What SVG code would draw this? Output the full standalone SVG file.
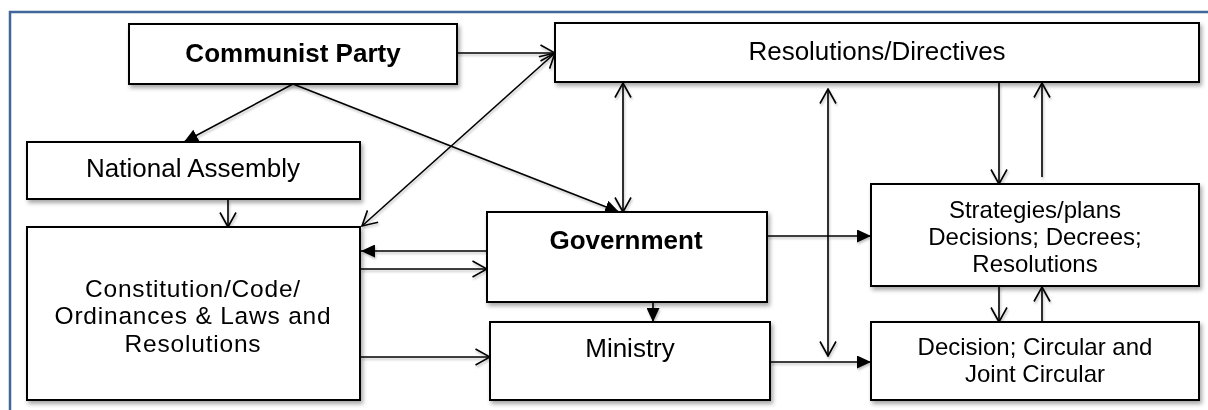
<svg xmlns="http://www.w3.org/2000/svg" width="1208" height="410" viewBox="0 0 1208 410">
  <style>
    .box { fill: #ffffff; stroke: #000000; stroke-width: 2; }
    .t { font-family: "Liberation Sans", Arial, sans-serif; font-size: 26px; fill: #000000; text-anchor: middle; }
    .tm { font-size: 24.5px; letter-spacing: 0.8px; }
    .ts { font-size: 24px; }
    .b { font-weight: bold; }
    .c { fill: none; stroke: #000000; stroke-width: 1.6; }
    .frame { fill: none; stroke: #41669a; stroke-width: 2.5; }
  </style>
  <defs>
    <filter id="shadow" x="-10%" y="-20%" width="130%" height="150%">
      <feDropShadow dx="2" dy="3" stdDeviation="2" flood-color="#000000" flood-opacity="0.35"/>
    </filter>
    <filter id="lineShadow" x="-10%" y="-10%" width="120%" height="130%">
      <feDropShadow dx="1" dy="2" stdDeviation="1.2" flood-color="#000000" flood-opacity="0.25"/>
    </filter>
    <marker id="open" viewBox="0 0 16 18" refX="15" refY="9" markerWidth="16" markerHeight="18" markerUnits="userSpaceOnUse" orient="auto-start-reverse">
      <path d="M0.5,1 L15,9 L0.5,17" fill="none" stroke="#000000" stroke-width="1.6"/>
    </marker>
    <marker id="solid" viewBox="0 0 14 13" refX="14" refY="6.5" markerWidth="14" markerHeight="13" markerUnits="userSpaceOnUse" orient="auto">
      <path d="M0,0 L14,6.5 L0,13 Z" fill="#000000"/>
    </marker>
  </defs>

  <rect width="1208" height="410" fill="#ffffff"/>
  <!-- page frame: left and top rules only -->
  <path class="frame" d="M10,410 V12 H1208"/>

  <g id="connectors" filter="url(#lineShadow)">
    <line class="c" x1="457" y1="53" x2="555" y2="53" marker-end="url(#open)"/>
    <line class="c" x1="293" y1="84" x2="184" y2="142" marker-end="url(#solid)"/>
    <line class="c" x1="293" y1="84" x2="619" y2="212" marker-end="url(#solid)"/>
    <line class="c" x1="362" y1="226" x2="555" y2="53" marker-start="url(#open)" marker-end="url(#open)"/>
    <line class="c" x1="623" y1="83" x2="623" y2="212" marker-start="url(#open)" marker-end="url(#open)"/>
    <line class="c" x1="828" y1="89" x2="828" y2="356" marker-start="url(#open)" marker-end="url(#open)"/>
    <line class="c" x1="999" y1="83" x2="999" y2="184" marker-end="url(#open)"/>
    <line class="c" x1="1042" y1="177" x2="1042" y2="83" marker-end="url(#open)"/>
    <line class="c" x1="767" y1="236" x2="871" y2="236" marker-end="url(#solid)"/>
    <line class="c" x1="653" y1="302" x2="653" y2="322" marker-end="url(#solid)"/>
    <line class="c" x1="770" y1="362" x2="871" y2="362" marker-end="url(#solid)"/>
    <line class="c" x1="999" y1="286" x2="999" y2="322" marker-end="url(#open)"/>
    <line class="c" x1="1042" y1="326" x2="1042" y2="287" marker-end="url(#open)"/>
    <line class="c" x1="228" y1="200" x2="228" y2="227" marker-end="url(#open)"/>
    <line class="c" x1="487" y1="251" x2="361" y2="251" marker-end="url(#solid)"/>
    <line class="c" x1="361" y1="269" x2="487" y2="269" marker-end="url(#open)"/>
    <line class="c" x1="361" y1="357" x2="490" y2="357" marker-end="url(#open)"/>
  </g>

  <g id="communist-party" filter="url(#shadow)">
    <rect class="box" x="129" y="24" width="328" height="60"/>
    <text class="t b" x="293" y="62">Communist Party</text>
  </g>

  <g id="resolutions-directives" filter="url(#shadow)">
    <rect class="box" x="555" y="23" width="644" height="59"/>
    <text class="t" x="877" y="60">Resolutions/Directives</text>
  </g>

  <g id="national-assembly" filter="url(#shadow)">
    <rect class="box" x="27" y="142" width="333" height="57"/>
    <text class="t" x="193" y="177">National Assembly</text>
  </g>

  <g id="constitution" filter="url(#shadow)">
    <rect class="box" x="27" y="227" width="333" height="173"/>
    <text class="t tm" x="193" y="296.5">Constitution/Code/</text>
    <text class="t tm" x="193" y="324">Ordinances &amp; Laws and</text>
    <text class="t tm" x="193" y="351.5">Resolutions</text>
  </g>

  <g id="government" filter="url(#shadow)">
    <rect class="box" x="487" y="212" width="280" height="90"/>
    <text class="t b" x="626" y="249">Government</text>
  </g>

  <g id="ministry" filter="url(#shadow)">
    <rect class="box" x="490" y="322" width="280" height="78"/>
    <text class="t" x="630" y="357">Ministry</text>
  </g>

  <g id="strategies" filter="url(#shadow)">
    <rect class="box" x="871" y="184" width="328" height="102"/>
    <text class="t ts" x="1035" y="218">Strategies/plans</text>
    <text class="t ts" x="1035" y="245">Decisions; Decrees;</text>
    <text class="t ts" x="1035" y="272">Resolutions</text>
  </g>

  <g id="decision" filter="url(#shadow)">
    <rect class="box" x="871" y="322" width="328" height="78"/>
    <text class="t ts" x="1035" y="355">Decision; Circular and</text>
    <text class="t ts" x="1035" y="382">Joint Circular</text>
  </g>
</svg>
